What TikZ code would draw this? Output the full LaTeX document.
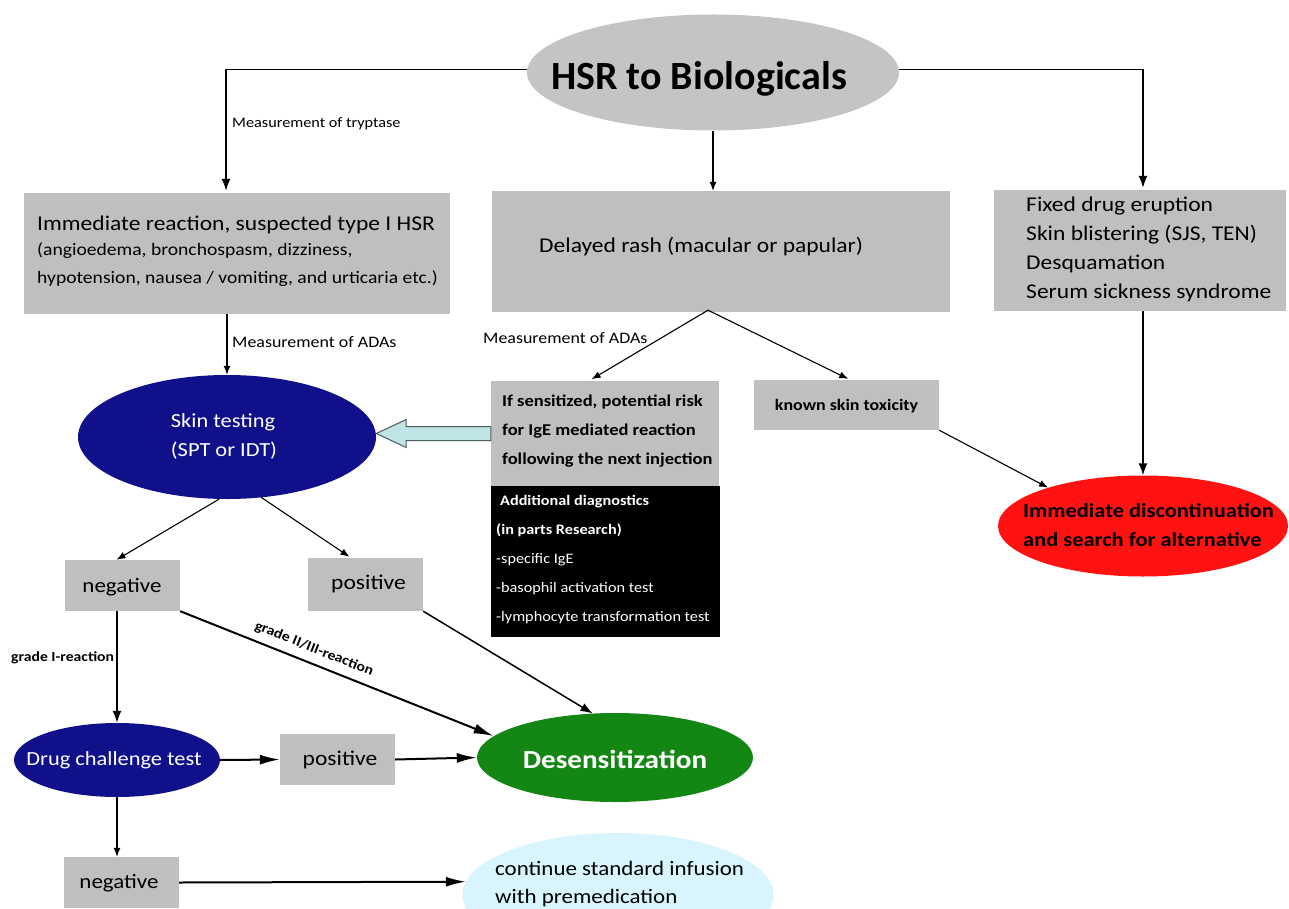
\documentclass[tikz,border=0pt]{standalone}
\usepackage{fontspec}
\setmainfont{Carlito}[FakeStretch=1.12]
\newfontfamily\titlefont{Carlito}
\usetikzlibrary{shapes.geometric,arrows.meta,calc}
\definecolor{boxgray}{RGB}{191,191,191}
\definecolor{ellgray}{RGB}{196,196,196}
\definecolor{navyfill}{RGB}{16,16,138}
\definecolor{greenfill}{RGB}{20,134,20}
\definecolor{redfill}{RGB}{255,18,18}
\definecolor{lightcyan}{RGB}{216,244,252}
\definecolor{blockfill}{RGB}{190,228,230}
\definecolor{blockedge}{RGB}{75,95,95}
\newcommand\fs[1]{\fontsize{#1}{#1}\selectfont}
\begin{document}
\begin{tikzpicture}[x=1pt,y=-1pt,
 gbox/.style={rectangle, fill=boxgray, inner sep=0pt},
 oval/.style={ellipse, inner sep=0pt},
 txt/.style={inner sep=0pt, anchor=base west},
 ctxt/.style={inner sep=0pt, anchor=base},
 arrS/.style={line width=1.1pt, -{Latex[length=9pt,width=7pt]}},
 arrM/.style={line width=1.5pt, -{Latex[length=12pt,width=9pt]}},
 arrL/.style={line width=2pt, -{Latex[length=20pt,width=10pt]}},
]
\fill[white] (0,0) rectangle (1289,909);
\useasboundingbox (0,0) rectangle (1289,909);

% shapes
\node[oval, fill=ellgray, minimum width=372pt, minimum height=116pt] (hsr) at (713,72.5) {};
\node[gbox, minimum width=426pt, minimum height=121pt] (imm) at (237,253.5) {};
\node[gbox, minimum width=458pt, minimum height=121pt] (delayed) at (721,251.5) {};
\node[gbox, minimum width=292pt, minimum height=121pt] (fixed) at (1140,250.5) {};
\node[gbox, minimum width=228pt, minimum height=105pt] (sens) at (605,433.5) {};
\node[rectangle, fill=black, inner sep=0pt, minimum width=229pt, minimum height=151pt] (addl) at (605.5,561.5) {};
\node[gbox, minimum width=185pt, minimum height=50pt] (known) at (846.5,405) {};
\node[oval, fill=redfill, minimum width=290pt, minimum height=101pt] (red) at (1143,526) {};
\node[oval, fill=navyfill, minimum width=298pt, minimum height=124pt] (skin) at (227,437) {};
\node[gbox, minimum width=115pt, minimum height=51pt] (neg) at (122.5,585.5) {};
\node[gbox, minimum width=115pt, minimum height=53pt] (pos) at (365.5,584.5) {};
\node[oval, fill=navyfill, minimum width=206pt, minimum height=74pt] (drug) at (117,760) {};
\node[gbox, minimum width=115pt, minimum height=51pt] (pos2) at (337.5,759.5) {};
\node[oval, fill=greenfill, minimum width=276pt, minimum height=89pt] (desens) at (615,757.5) {};
\node[gbox, minimum width=115pt, minimum height=51pt] (neg2) at (121.5,882.5) {};
\node[oval, fill=lightcyan, minimum width=311pt, minimum height=124pt] (cont) at (618,895) {};

% texts
\node[ctxt, font=\titlefont\bfseries\fs{40}] (hsrt) at (699,90) {HSR to Biologicals};
\node[txt, font=\fs{21}] (imm1) at (37,230) {Immediate reaction, suspected type I HSR};
\node[txt, font=\fs{17.5}] (imm2) at (37,255) {(angioedema, bronchospasm, dizziness,};
\node[txt, font=\fs{17.5}] (imm3) at (37,283) {hypotension, nausea / vomiting, and urticaria etc.)};
\node[txt, font=\fs{21}] (del1) at (539,252) {Delayed rash (macular or papular)};
\node[txt, font=\fs{21}] (fix1) at (1026,212) {Fixed drug eruption};
\node[txt, font=\fs{21}] (fix2) at (1026,240.7) {Skin blistering (SJS, TEN)};
\node[txt, font=\fs{21}] (fix3) at (1026,269.4) {Desquamation};
\node[txt, font=\fs{21}] (fix4) at (1026,298) {Serum sickness syndrome};
\node[txt, font=\bfseries\fs{16.5}] (sen1) at (502,406) {If sensitized, potential risk};
\node[txt, font=\bfseries\fs{16.5}] (sen2) at (502,435) {for IgE mediated reaction};
\node[txt, font=\bfseries\fs{16.5}] (sen3) at (502,464) {following the next injection};
\node[txt, font=\bfseries\fs{14.5}, text=white] (ad1) at (500,505) {Additional diagnostics};
\node[txt, font=\bfseries\fs{14.5}, text=white] (ad2) at (496,534) {(in parts Research)};
\node[txt, font=\fs{14.5}, text=white] (ad3) at (496,563) {-specific IgE};
\node[txt, font=\fs{14.5}, text=white] (ad4) at (496,592) {-basophil activation test};
\node[txt, font=\fs{14.5}, text=white] (ad5) at (496,621) {-lymphocyte transformation test};
\node[ctxt, font=\bfseries\fs{16}] (knt) at (846.5,410) {known skin toxicity};
\node[txt, font=\bfseries\fs{20}] (red1) at (1023,517) {Immediate discontinuation};
\node[txt, font=\bfseries\fs{20}] (red2) at (1023,546) {and search for alternative};
\node[ctxt, font=\fs{20}, text=white] (sk1) at (223,427) {Skin testing};
\node[ctxt, font=\fs{20}, text=white] (sk2) at (224,456) {(SPT or IDT)};
\node[ctxt, font=\fs{20.5}] (negt) at (122,592) {negative};
\node[ctxt, font=\fs{21}] (post) at (368.5,589) {positive};
\node[ctxt, font=\fs{20}, text=white] (drt) at (114,765) {Drug challenge test};
\node[ctxt, font=\fs{21}] (pos2t) at (340,765) {positive};
\node[ctxt, font=\bfseries\fs{26}, text=white] (dest) at (615,768) {Desensitization};
\node[ctxt, font=\fs{20.5}] (neg2t) at (119,888) {negative};
\node[txt, font=\fs{20.5}] (con1) at (495,875) {continue standard infusion};
\node[txt, font=\fs{20.5}] (con2) at (495,903) {with premedication};

% labels
\node[txt, font=\fs{14.5}] (ltry) at (232,128) {Measurement of tryptase};
\node[txt, font=\fs{16}] (lada1) at (232,347) {Measurement of ADAs};
\node[txt, font=\fs{16}] (lada2) at (483,343) {Measurement of ADAs};
\node[txt, font=\bfseries\fs{14}] (lg1) at (11,661) {grade I-reaction};

% connectors
\draw[arrM, shorten >=2pt] (hsr.179) -| ($(imm.north)+(-11,0)$);
\draw[arrS] (hsr.south) -- (hsr.south |- delayed.north);
\draw[arrM, shorten >=2pt] (hsr.1) -| (fixed.north -| red.north);
\draw[arrS] (skin.north |- imm.south) -- (skin.north);
\coordinate (apex) at ($(delayed.south)+(-13,-2)$);
\draw[arrS, shorten >=3pt] (apex) -- ($(sens.north)+(-16,0)$);
\draw[arrS, shorten >=2pt] (apex) -- ($(known.north)+(3.5,0)$);
\draw[arrM] (fixed.south -| red.north) -- (red.north);
\draw[arrS] (known.south east) -- (red.158);
\coordinate (bt) at (skin.east |- sens.west);
\draw[fill=blockfill, draw=blockedge, line width=1pt, line join=miter]
  (bt) -- ($(bt)+(30,-14)$) -- ($(bt)+(30,-7)$) -- ($(sens.west)+(0,-7)$)
  -- ($(sens.west)+(0,7)$) -- ($(bt)+(30,7)$) -- ($(bt)+(30,14)$) -- cycle;
\draw[arrS] ($(skin.south)+(-8,0)$) -- ($(neg.north)+(-6,0)$);
\draw[arrS] ($(skin.south)+(34,-2)$) -- ($(pos.north)+(-16,-1)$);
\draw[arrM] (drug.north |- neg.south) -- (drug.north);
\draw[arrL] (neg.south east) -- node[sloped, above=4pt, pos=0.41, font=\bfseries\fs{14}] (lg23) {grade II/III-reaction} (desens.170);
\draw[arrM] (pos.south east) -- (desens.117);
\draw[arrL] (drug.east) -- (pos2.west);
\draw[arrL] (pos2.east) -- (desens.west);
\draw[arrS] (drug.south) -- (drug.south |- neg2.north);
\draw[arrL] (neg2.east) -- (cont.175);
\end{tikzpicture}
\end{document}
